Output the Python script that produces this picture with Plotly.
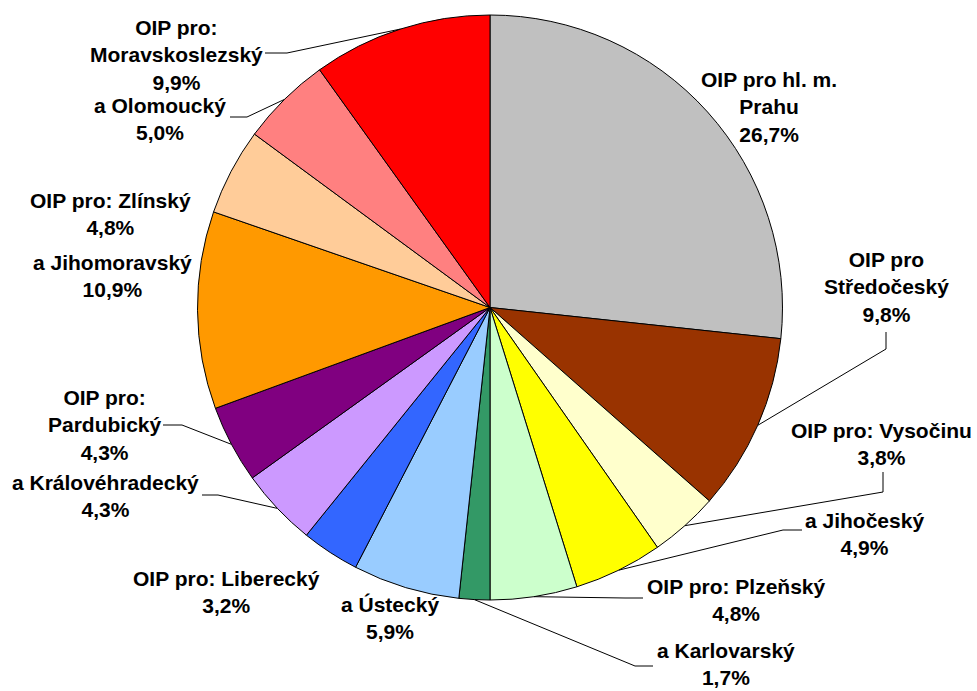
import math
import plotly.graph_objects as go

# ---- data ----
labels = [
    "OIP pro hl. m.<br>Prahu", "OIP pro<br>Středočeský", "OIP pro: Vysočinu", "a Jihočeský",
    "OIP pro: Plzeňský", "a Karlovarský", "a Ústecký", "OIP pro: Liberecký",
    "a Královéhradecký", "OIP pro:<br>Pardubický", "a Jihomoravský", "OIP pro: Zlínský",
    "a Olomoucký", "OIP pro:<br>Moravskoslezský",
]
values = [26.7, 9.8, 3.8, 4.9, 4.8, 1.7, 5.9, 3.2, 4.3, 4.3, 10.9, 4.8, 5.0, 9.9]
colors = ["#C0C0C0", "#993300", "#FFFFCC", "#FFFF00", "#CCFFCC", "#339966", "#99CCFF",
          "#3366FF", "#CC99FF", "#800080", "#FF9900", "#FFCC99", "#FF8080", "#FF0000"]

# ---- layout (pixels, in window coordinates) ----
W, H = 977, 691
CX, CY, R = 490.0, 307.5, 292.5
label_pos = [(769, 106.7), (886, 286.7), (881, 443.5), (864.5, 533.5), (735.5, 599.5),
             (726, 664), (390, 618), (226, 591.5), (105, 495.5), (104.5, 425.3),
             (112, 276), (110, 214.5), (159.5, 118.5), (176.5, 55)]
leaders = [None, [(886, 349), (886, 332)], [(883, 492), (883, 472)], [(783, 530), (802, 530)],
           [(625, 598), (643, 598)], [(635, 666), (653, 666)], None, None,
           [(218, 495), (202, 495)], [(182, 425), (163, 425)], None, None,
           [(247, 117), (230, 117)], [(287, 53), (265, 53)]]


def px(x):
    return x / W


def py(y):
    return 1 - y / H


fig = go.Figure(go.Pie(
    labels=[l.replace("<br>", " ") for l in labels], values=values, sort=False,
    direction="clockwise", rotation=0, textinfo="none", hoverinfo="label+percent",
    marker=dict(colors=colors, line=dict(color="black", width=1)),
    domain=dict(x=[px(CX - R), px(CX + R)], y=[py(CY + R), py(CY - R)]),
    showlegend=False,
))

font = dict(family="Arial, 'Liberation Sans', sans-serif", size=21, color="black", weight="bold")
total = sum(values)
cum = 0.0
annotations, shapes = [], []
for lab, v, pos, ld in zip(labels, values, label_pos, leaders):
    mid = (cum + v / 2) / total
    cum += v
    pct = f"{v / total * 100:.1f}".replace(".", ",") + "%"
    annotations.append(dict(x=px(pos[0]), y=py(pos[1]), xref="paper", yref="paper",
                            text=f"{lab}<br>{pct}", showarrow=False, font=font,
                            xanchor="center", yanchor="middle", align="center"))
    if ld:
        ang = 2 * math.pi * mid
        ex, ey = CX + R * math.sin(ang), CY - R * math.cos(ang)
        pts = [(ex, ey)] + ld
        path = "M " + " L ".join(f"{px(x)},{py(y)}" for x, y in pts)
        shapes.append(dict(type="path", path=path, xref="paper", yref="paper",
                           line=dict(color="black", width=1)))

fig.update_layout(width=W, height=H, margin=dict(l=0, r=0, t=0, b=0),
                  paper_bgcolor="white", plot_bgcolor="white",
                  annotations=annotations, shapes=shapes)
fig.write_html("out.html", config={"displayModeBar": False},
               post_script="document.body.style.margin='0';document.body.style.overflow='hidden';")
